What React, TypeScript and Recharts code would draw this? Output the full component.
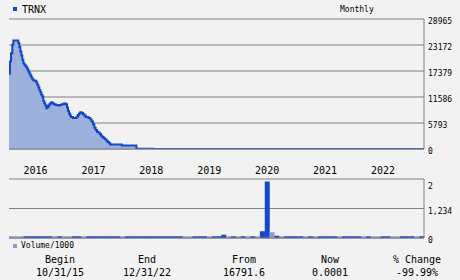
import React from 'react';
import { ComposedChart, Area, Bar, Cell, XAxis, YAxis, CartesianGrid } from 'recharts';

const ticker = 'TRNX';
const period = 'Monthly';
const volumeLegend = 'Volume/1000';

// month offsets from 10/31/15 (fractional = intra-month observations)
const priceT = [0, 0.21, 0.41, 0.69, 0.9, 1.93, 2.14, 2.35, 2.56, 2.76, 2.97, 3.18, 3.39, 3.59, 3.8, 4.01, 4.21, 4.42, 4.63, 4.84, 5.04, 5.25, 5.66, 5.87, 6.08, 6.29, 6.49, 6.7, 6.91, 7.11, 7.32, 7.53, 7.74, 7.94, 8.15, 8.36, 8.57, 8.77, 8.98, 9.26, 9.67, 10.09, 10.5, 10.91, 11.33, 11.74, 12.02, 12.22, 12.43, 12.64, 12.84, 13.26, 13.95, 14.23, 14.5, 14.78, 15.06, 15.33, 15.61, 15.88, 16.44, 16.85, 17.13, 17.4, 17.68, 17.96, 18.23, 18.51, 18.79, 19.06, 19.34, 19.61, 19.89, 20.17, 20.44, 20.72, 20.99, 23.4, 26.4, 30, 40, 52, 60, 86];
const priceV = [16792, 19500, 21360, 23220, 24190, 23600, 22700, 21730, 20840, 19870, 19130, 18760, 18530, 18240, 17790, 17270, 16820, 16370, 15930, 15560, 15330, 15180, 14810, 14290, 13770, 13170, 12660, 12060, 11690, 10720, 10200, 9680, 9080, 9380, 9680, 9970, 10200, 10420, 10200, 9970, 9830, 9680, 9830, 9970, 10120, 9970, 9230, 8490, 7890, 7440, 7150, 6920, 7150, 7590, 7890, 8190, 8040, 7740, 7440, 7150, 6920, 6550, 6100, 5510, 4760, 4240, 3870, 3650, 3350, 2980, 2680, 2380, 2160, 1860, 1560, 1270, 1000, 760, 30, 15, 8, 3, 1, 0.0001];

const yearTicks = [3, 15, 27, 39, 51, 63, 75];
const yearLabels = ['2016', '2017', '2018', '2019', '2020', '2021', '2022'];
const priceTicks = [0, 5793, 11586, 17379, 23172, 28965];

// monthly volume (thousands), Nov 2015 .. Dec 2022
const volValues = [0.07, 0.07, 0.07, 0.07, 0.07, 0.07, 0.07, 0.07, 0.07, 0.07, 0.07, 0.07, 0.07, 0.07, 0.07, 0.07, 0.07, 0.07, 0.07, 0.07, 0.07, 0.07, 0.07, 0.07, 0.07, 0.07, 0.07, 0.07, 0.07, 0.07, 0.07, 0.07, 0.07, 0.07, 0.07, 0.07, 0.07, 0.07, 0.07, 0.07, 0.07, 0.07, 0.07, 0.07, 0.14, 0.07, 0.07, 0.07, 0.07, 0.07, 0.07, 0.07, 0.28, 2.36, 0.24, 0.09, 0.07, 0.07, 0.07, 0.07, 0.07, 0.07, 0.07, 0.07, 0.07, 0.07, 0.07, 0.07, 0.07, 0.07, 0.07, 0.07, 0.07, 0.07, 0.07, 0.07, 0.07, 0.07, 0.07, 0.07, 0.07, 0.07, 0.07, 0.07, 0.07, 0.07];
// 1 = down month (dark), 0 = up month (light)
const volDown = [0, 0, 0, 1, 1, 1, 1, 1, 1, 0, 1, 0, 0, 1, 1, 0, 1, 1, 1, 1, 1, 1, 1, 0, 1, 1, 1, 1, 1, 1, 1, 1, 1, 1, 1, 1, 0, 0, 1, 1, 1, 0, 1, 1, 1, 0, 1, 0, 1, 0, 1, 0, 1, 1, 0, 1, 0, 1, 1, 1, 1, 0, 1, 0, 1, 1, 1, 1, 0, 1, 1, 1, 1, 0, 1, 0, 0, 1, 1, 0, 0, 1, 1, 1, 0, 1];
const volTicks = [0, 1.234, 2.468];
const volTickLabels = ['0', '1,234', '2'];

const statLabels = ['Begin', 'End', 'From', 'Now', '% Change'];
const statValues = ['10/31/15', '12/31/22', '16791.6', '0.0001', '-99.99%'];

const priceData = priceT.map((t, i) => ({ t, v: priceV[i] }));
const volData = volValues.map((v, i) => ({ m: String(i), v, d: volDown[i] }));

const BG = '#f2f2f2';
const GRID = '#808080';
const DARK = '#1448c8';
const FILL = '#9cb0dc';
const LIGHT = '#8c9ccc';
const MONO = "'DejaVu Sans Mono', monospace";

const statX = [60, 147, 244, 330, 417];

const PriceTick = (p: any) => (
  <text x={p.x + 4} y={p.y + 5} fontFamily={MONO} fontSize={8} fill="#000" textAnchor="start">
    {p.payload.value}
  </text>
);
const VolTick = (p: any) => {
  const idx = volTicks.indexOf(p.payload.value);
  return (
    <text x={p.x + 4} y={p.y + 5} fontFamily={MONO} fontSize={8} fill="#000" textAnchor="start">
      {volTickLabels[idx]}
    </text>
  );
};
const YearTick = (p: any) => {
  const idx = yearTicks.indexOf(p.payload.value);
  return (
    <text x={p.x} y={p.y + 25} fontFamily={MONO} fontSize={10} fill="#000" textAnchor="start">
      {yearLabels[idx]}
    </text>
  );
};

export default function App() {
  return (
    <div style={{ position: 'absolute', left: 0, top: 0, width: 460, height: 280, background: BG, overflow: 'hidden' }}>
      <div style={{ position: 'absolute', left: 0, top: 0 }}>
        <ComposedChart width={460} height={175} data={priceData} margin={{ top: 19, right: 0, left: 9, bottom: 0 }}>
          <CartesianGrid vertical={false} stroke={GRID} strokeWidth={1} />
          <XAxis
            type="number"
            dataKey="t"
            domain={[0, 86]}
            ticks={yearTicks}
            tick={<YearTick />}
            tickLine={false}
            tickSize={0}
            tickMargin={0}
            height={26}
            axisLine={{ stroke: GRID }}
            allowDataOverflow
          />
          <YAxis
            orientation="right"
            domain={[0, 28965]}
            ticks={priceTicks}
            tick={<PriceTick />}
            tickLine={false}
            tickSize={0}
            tickMargin={0}
            width={36}
            axisLine={{ stroke: GRID }}
            allowDataOverflow
          />
          <YAxis yAxisId="border" orientation="left" width={0} tick={false} tickLine={false} axisLine={{ stroke: GRID }} domain={[0, 1]} />
          <Area
            type="stepAfter"
            dataKey="v"
            stroke={DARK}
            strokeWidth={2}
            fill={FILL}
            fillOpacity={1}
            isAnimationActive={false}
            dot={false}
            activeDot={false}
          />
        </ComposedChart>
      </div>
      <div style={{ position: 'absolute', left: 0, top: 175 }}>
        <ComposedChart width={460} height={72} data={volData} margin={{ top: 4, right: 0, left: 9, bottom: 8 }} barCategoryGap={0} barGap={0}>
          <CartesianGrid vertical={false} stroke={GRID} strokeWidth={1} />
          <XAxis dataKey="m" tick={false} tickLine={false} height={1} axisLine={{ stroke: GRID }} />
          <YAxis
            orientation="right"
            domain={[0, 2.468]}
            ticks={volTicks}
            tick={<VolTick />}
            tickLine={false}
            tickSize={0}
            tickMargin={0}
            width={36}
            axisLine={{ stroke: GRID }}
            allowDataOverflow
          />
          <YAxis yAxisId="border" orientation="left" width={0} tick={false} tickLine={false} axisLine={{ stroke: GRID }} domain={[0, 1]} />
          <Bar dataKey="v" isAnimationActive={false}>
            {volData.map((d, i) => (
              <Cell key={i} fill={d.d ? DARK : LIGHT} />
            ))}
          </Bar>
        </ComposedChart>
      </div>
      <svg width={460} height={280} style={{ position: 'absolute', left: 0, top: 0, pointerEvents: 'none' }}>
        <rect x={13} y={7} width={4} height={4} fill={DARK} />
        <text x={22} y={13} fontFamily={MONO} fontSize={10} fill="#000">{ticker}</text>
        <text x={340} y={12} fontFamily={MONO} fontSize={8} fill="#000">{period}</text>
        <rect x={13} y={244} width={4} height={4} fill={LIGHT} />
        <text x={21} y={248} fontFamily={MONO} fontSize={8} fill="#000">{volumeLegend}</text>
        {statLabels.map((s, i) => (
          <text key={s} x={statX[i]} y={263} fontFamily={MONO} fontSize={10} fill="#000" textAnchor="middle">{s}</text>
        ))}
        {statValues.map((s, i) => (
          <text key={s} x={statX[i]} y={276} fontFamily={MONO} fontSize={10} fill="#000" textAnchor="middle">{s}</text>
        ))}
      </svg>
    </div>
  );
}
